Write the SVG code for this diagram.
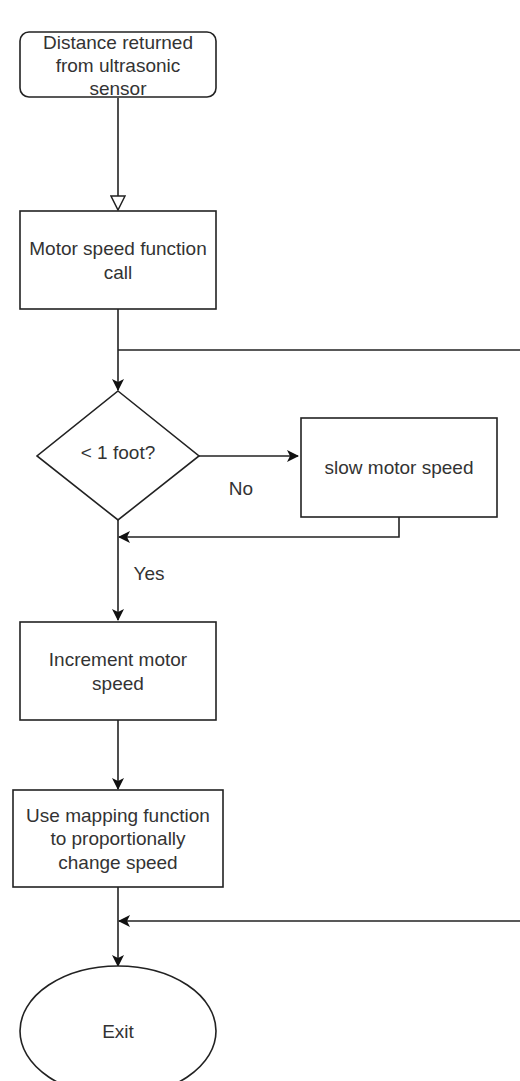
<svg xmlns="http://www.w3.org/2000/svg" width="520" height="1081" viewBox="0 0 520 1081">
<style>
.n{fill:#fff;stroke:#222;stroke-width:1.6}
.t{font-family:"Liberation Sans",Arial,sans-serif;font-size:19px;fill:#333;text-anchor:middle}
.c{fill:none;stroke:#222;stroke-width:1.6}
</style>
<defs>
<marker id="cl" viewBox="0 0 12 12" refX="11" refY="6" markerWidth="12" markerHeight="12" markerUnits="userSpaceOnUse" orient="auto">
<path d="M0,0 L12,6 L0,12 L3,6 Z" fill="#111"/>
</marker>
<marker id="blk" viewBox="0 0 16 16" refX="15" refY="8" markerWidth="16" markerHeight="16" markerUnits="userSpaceOnUse" orient="auto">
<path d="M1,1 L15,8 L1,15 Z" fill="#fff" stroke="#222" stroke-width="1.5"/>
</marker>
</defs>
<rect width="520" height="1081" fill="#fff"/>
<g id="connectors">
<path class="c" d="M118,98 V210" marker-end="url(#blk)"/>
<path class="c" d="M118,309 V390" marker-end="url(#cl)"/>
<path class="c" d="M118,350 H540"/>
<path class="c" d="M199,456 H298" marker-end="url(#cl)"/>
<path class="c" d="M399,517 V537 H119" marker-end="url(#cl)"/>
<path class="c" d="M118,520 V620" marker-end="url(#cl)"/>
<path class="c" d="M118,720 V789" marker-end="url(#cl)"/>
<path class="c" d="M118,887 V966" marker-end="url(#cl)"/>
<path class="c" d="M540,921 H119" marker-end="url(#cl)"/>
<text class="t" x="241" y="495">No</text>
<text class="t" x="149" y="580">Yes</text>
</g>
<g id="start">
<rect class="n" x="20" y="32" width="196" height="65" rx="9"/>
<text class="t" x="118" y="49">Distance returned</text>
<text class="t" x="118" y="72">from ultrasonic</text>
<text class="t" x="118" y="95">sensor</text>
</g>
<g id="motorcall">
<rect class="n" x="20" y="211" width="196" height="98"/>
<text class="t" x="118" y="255">Motor speed function</text>
<text class="t" x="118" y="279">call</text>
</g>
<g id="decision">
<path class="n" d="M118,391 L199,456 L118,520 L37,456 Z"/>
<text class="t" x="118" y="459">&lt; 1 foot?</text>
</g>
<g id="slow">
<rect class="n" x="301" y="418" width="196" height="99"/>
<text class="t" x="399" y="474">slow motor speed</text>
</g>
<g id="increment">
<rect class="n" x="20" y="622" width="196" height="98"/>
<text class="t" x="118" y="666">Increment motor</text>
<text class="t" x="118" y="690">speed</text>
</g>
<g id="mapping">
<rect class="n" x="13" y="790" width="210" height="97"/>
<text class="t" x="118" y="822">Use mapping function</text>
<text class="t" x="118" y="845">to proportionally</text>
<text class="t" x="118" y="869">change speed</text>
</g>
<g id="exit">
<ellipse class="n" cx="118" cy="1031" rx="98" ry="65"/>
<text class="t" x="118" y="1038">Exit</text>
</g>
</svg>
